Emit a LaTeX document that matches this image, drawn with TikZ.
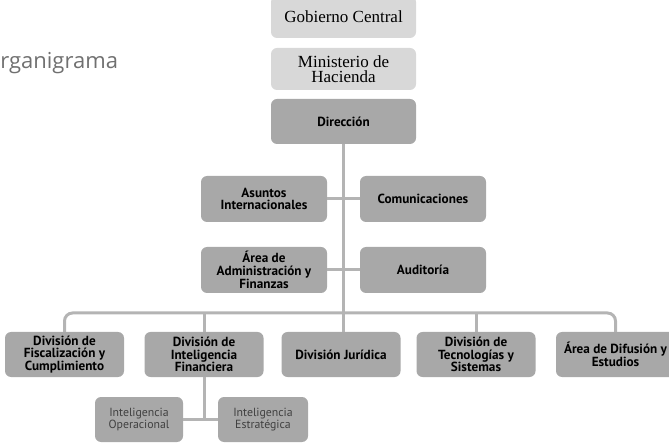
\documentclass[tikz,border=0pt]{standalone}
\usepackage{fontspec}
\setmainfont{Liberation Serif}
\newfontfamily\boxfont{PT Sans}
\newfontfamily\titlefont{Open Sans}
\usetikzlibrary{positioning}
\usetikzlibrary{calc}
\definecolor{lightbox}{HTML}{D8D8D8}
\definecolor{midbox}{HTML}{A8A8A8}
\definecolor{linegray}{HTML}{B4B4B4}
\definecolor{subtext}{HTML}{404040}
\definecolor{titletext}{HTML}{707070}
\tikzstyle{topbox}=[rectangle,rounded corners=6pt,fill=lightbox,minimum width=145pt,minimum height=42pt,inner sep=0pt,align=center,font=\fontsize{17}{15.5}\selectfont]
\tikzstyle{unitbox}=[rectangle,rounded corners=6pt,fill=midbox,minimum width=126pt,minimum height=46pt,inner sep=0pt,align=center,font=\boxfont\bfseries\fontsize{13.2}{12.8}\selectfont]
\tikzstyle{divbox}=[unitbox,minimum width=119pt,minimum height=45pt]
\tikzstyle{subbox}=[rectangle,rounded corners=6pt,fill=midbox,minimum width=89pt,minimum height=45pt,inner sep=0pt,align=center,text=subtext,font=\boxfont\fontsize{11.8}{11.2}\selectfont]
\tikzstyle{link}=[draw=linegray,line width=3pt]

\begin{document}
\begin{tikzpicture}[x=1pt,y=-1pt]
  \useasboundingbox (0,0) rectangle (669,443);

  \def\cx{343.5};
  \def\busy{313};

  \node[anchor=base west,inner sep=0pt,text=titletext,font=\titlefont\fontsize{22}{22}\selectfont] (title) at (-17,68.5) {Organigrama};

  % top of the chain
  \node[topbox] (gobierno) at (\cx,17) {Gobierno Central};
  \node[topbox] (ministerio) at (\cx,69) {Ministerio de\\Hacienda};
  \node[unitbox,minimum width=145pt,minimum height=45pt] (direccion) at (\cx,121.5) {Dirección};

  \foreach \x/\y/\name/\label in {264/199/asuntos/{Asuntos\\Internacionales}, 423/199/comunicaciones/Comunicaciones,
                                 264/270/area/{Área de\\Administración y\\Finanzas}, 423/270/auditoria/Auditoría}
          \node[unitbox] (\name) at (\x,\y) {\label};

  \foreach \x/\name/\label in {64.5/fiscalizacion/{División de\\Fiscalización y\\Cumplimiento}, 204/inteligencia/{División de\\Inteligencia\\Financiera},
                              341/juridica/{División Jurídica}, 476/tecnologias/{División de\\Tecnologías y\\Sistemas},
                              615.5/difusion/{Área de Difusión y\\Estudios}}
          \node[divbox] (\name) at (\x,354.5) {\label};

  \node[subbox,minimum width=88pt] (operacional) at (139,419.5) {Inteligencia\\Operacional};
  \node[subbox,minimum width=90pt] (estrategica) at (263,419.5) {Inteligencia\\Estratégica};

  % connectors
  \coordinate (bus) at (\cx,\busy);
  \draw[link] (direccion.south) -- (direccion.south |- juridica.north);
  \draw[link] (asuntos.east) -- (comunicaciones.west);
  \draw[link] (area.east) -- (auditoria.west);
  \draw[link,rounded corners=8pt] (fiscalizacion.north) |- (bus) -| (difusion.north);
  \draw[link] (inteligencia.north) -- (inteligencia.north |- bus);
  \draw[link] (tecnologias.north) -- (tecnologias.north |- bus);
  \draw[link] (operacional.east) -- (estrategica.west);
  \draw[link] (inteligencia.south) -- (inteligencia.south |- operacional.east);

\end{tikzpicture}
\end{document}
